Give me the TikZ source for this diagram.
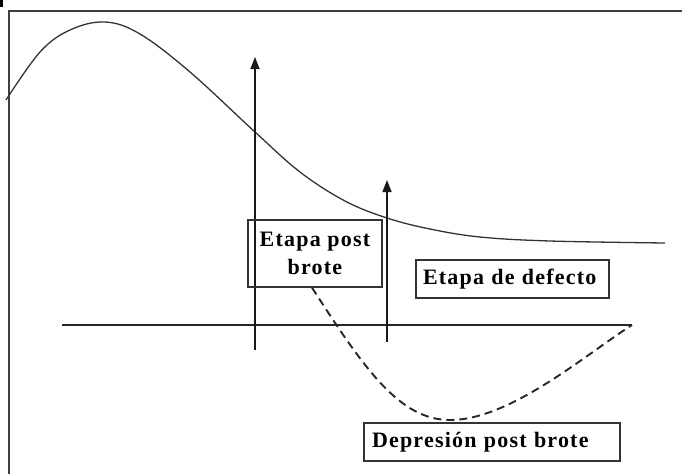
\documentclass[tikz,border=0pt]{standalone}
\usepackage{fontspec}
\setmainfont{Liberation Serif}
\newfontfamily\etiqfont[LetterSpace=5.5]{Liberation Serif}
\usetikzlibrary{arrows.meta}

\begin{document}
\begin{tikzpicture}[
    x=1pt, y=-1pt,
    font=\etiqfont\fontsize{22}{28}\selectfont\bfseries,
    frame/.style={draw=black!75, line width=1.8pt},
    curva/.style={draw=black!80, line width=1.3pt},
    eje/.style={draw=black!85, line width=1.4pt},
    arr/.style={-{Triangle[length=12pt, width=9pt]}, line width=1.4pt, black!90},
    etiq/.style={draw=black!80, line width=1.3pt, rectangle, align=center,
                 inner sep=2pt},
    trazos/.style={line width=1.9pt, black!85, dash pattern=on 8pt off 5pt},
  ]
  \useasboundingbox (0,0) rectangle (682,474);

  %% marco
  \fill[black] (0,0) rectangle (3,7);
  \draw[frame] (682,11) -- (9,11) -- (9,474);

  %% curva principal
  \draw[curva] plot[smooth, tension=0.6] coordinates {
    (6,100) (40,52) (70,30) (105,22) (140,34) (190,72) (255,132)
    (300,172) (345,201) (387,218) (430,229) (480,237) (550,241) (665,243)};

  %% eje horizontal
  \coordinate (hl) at (62,325);
  \coordinate (hr) at (632,325);
  \draw[eje] (hl) -- (hr);

  %% flechas
  \coordinate (f1a) at (255,350);
  \coordinate (f1b) at (255,57);
  \coordinate (f2a) at (387,342);
  \coordinate (f2b) at (387,180);
  \draw[arr] (f1a) -- (f1b);
  \draw[arr] (f2a) -- (f2b);

  %% etiquetas
  \node[etiq, minimum width=134pt, minimum height=67pt]
    (postb) at (315,253.5) {Etapa post\\brote};
  \node[etiq, minimum height=38pt, text width=179pt, inner xsep=7pt,
        align=left]
    (defect) at (512.5,279) {Etapa de defecto};
  \node[etiq, minimum height=38pt, text width=240pt, inner xsep=8pt,
        align=left]
    (depres) at (492,442) {Depresión post brote};

  %% depresion (trazos)
  \coordinate (fondo) at (450,420);
  \draw[trazos] ([xshift=-3pt]postb.south) .. controls (365,370) and (400,420)
    .. (fondo) .. controls (510,420) and (585,355) .. (hr);

\end{tikzpicture}
\end{document}
